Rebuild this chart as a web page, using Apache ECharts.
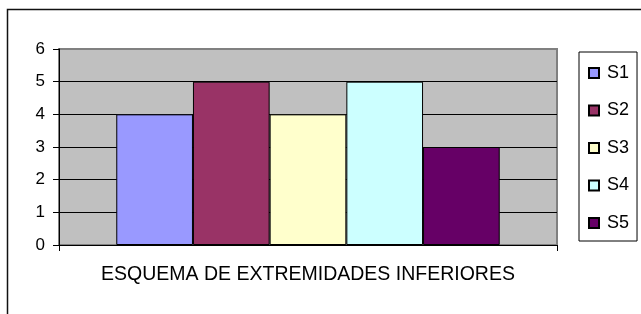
<!DOCTYPE html>
<html>
<head>
<meta charset="utf-8">
<script src="https://cdn.jsdelivr.net/npm/echarts@6/dist/echarts.min.js"></script>
<style>
html,body{margin:0;padding:0;background:#fff;}
#chart{width:641px;height:314px;}
</style>
</head>
<body>
<div id="chart"></div>
<script>
const categories = ['ESQUEMA DE EXTREMIDADES INFERIORES'];
const seriesNames = ['S1', 'S2', 'S3', 'S4', 'S5'];
const seriesValues = [4, 5, 4, 5, 3];
const seriesColors = ['#9999FF', '#993366', '#FFFFCC', '#CCFFFF', '#660066'];
const yTicks = [0, 1, 2, 3, 4, 5, 6];

const FONT = "'Liberation Sans', Arial, sans-serif";
const chart = echarts.init(document.getElementById('chart'), null, {renderer: 'canvas'});

const series = seriesNames.map((name, i) => ({
  name: name,
  type: 'bar',
  data: [seriesValues[i]],
  barGap: '0%',
  barCategoryGap: '23%',
  itemStyle: {color: seriesColors[i], borderColor: '#000', borderWidth: 1},
  emphasis: {disabled: true},
  animation: false
}));

chart.setOption({
  animation: false,
  backgroundColor: '#fff',
  textStyle: {fontFamily: FONT},
  graphic: [{
    type: 'rect',
    shape: {x: 7.5, y: 9.5, width: 700, height: 400},
    style: {fill: 'none', stroke: '#111', lineWidth: 1.5},
    silent: true, z: 100
  }],
  grid: {
    left: 59, right: 84, top: 49, bottom: 69,
    show: true, backgroundColor: '#C0C0C0', borderColor: '#808080', borderWidth: 2
  },
  legend: {
    orient: 'vertical',
    left: 579, top: 52,
    padding: [12, 8, 9, 9],
    itemWidth: 10, itemHeight: 10,
    itemGap: 19.5,
    backgroundColor: '#fff',
    borderColor: '#000', borderWidth: 1,
    icon: 'rect',
    selectedMode: false,
    data: seriesNames,
    textStyle: {fontFamily: FONT, fontSize: 18, color: '#000', lineHeight: 18, padding: [0, 0, 0, 3]}
  },
  xAxis: {
    type: 'category',
    data: categories,
    axisLine: {lineStyle: {color: '#000', width: 1}},
    axisTick: {show: true, length: 6, lineStyle: {color: '#000'}},
    axisLabel: {fontFamily: FONT, fontSize: 19.5, color: '#000', margin: 20}
  },
  yAxis: {
    type: 'value',
    min: 0, max: 6, interval: 1,
    axisLine: {show: true, lineStyle: {color: '#000', width: 1}},
    axisTick: {show: true, length: 6, lineStyle: {color: '#000'}},
    axisLabel: {fontFamily: FONT, fontSize: 17, color: '#000', margin: 14,
      formatter: v => yTicks.includes(v) ? String(v) : ''},
    splitLine: {show: true, lineStyle: {color: ['#000', '#000', '#000', '#000', '#000', '#000', '#808080'], width: 1}}
  },
  series: series
});
</script>
</body>
</html>
